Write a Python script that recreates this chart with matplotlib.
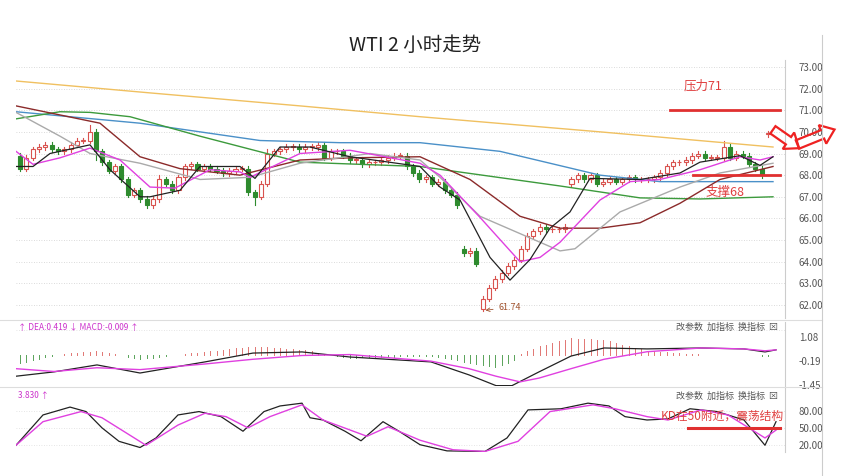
import matplotlib
matplotlib.use("Agg")
import matplotlib.pyplot as plt
import numpy as np
from matplotlib.patches import Rectangle, Polygon
from matplotlib.lines import Line2D

plt.rcParams['font.family'] = ['Noto Sans CJK SC', 'DejaVu Sans']

# 2-hour candles, closes
closes = [68.3, 68.8, 69.2, 69.3, 69.4, 69.2, 69.1, 69.2, 69.4, 69.6,
          69.6, 70.0, 69.1, 68.6, 68.2, 68.4, 67.8, 67.1, 67.3, 66.9,
          66.6, 66.9, 67.8, 67.6, 67.3, 67.9, 68.4, 68.5, 68.3, 68.4,
          68.3, 68.2, 68.1, 68.2, 68.3, 68.3, 67.2, 67.0, 67.6, 69.0,
          69.1, 69.2, 69.3, 69.3, 69.2, 69.3, 69.3, 69.4, 68.8, 69.1,
          69.1, 68.9, 68.7, 68.7, 68.5, 68.6, 68.6, 68.7, 68.8, 68.9,
          68.9, 68.4, 68.1, 67.8, 67.9, 67.6, 67.7, 67.3, 67.1, 66.6,
          64.4, 64.5, 63.9, 62.3, 62.8, 63.2, 63.5, 63.8, 64.1, 64.6,
          65.2, 65.4, 65.6, 65.5, 65.5, 65.5, 65.6, 67.8, 68.0, 67.8,
          68.0, 67.6, 67.7, 67.8, 67.7, 67.8, 67.9, 67.8, 67.8, 67.8,
          67.9, 68.1, 68.4, 68.6, 68.6, 68.7, 68.9, 69.0, 68.8, 68.8,
          68.8, 69.3, 68.8, 69.0, 68.9, 68.5, 68.3, 68.0, 69.9]
first_open = 68.9
open_override = {70: 64.6, 73: 61.8, 87: 67.6, 118: 69.9}
high_override = {11: 70.3, 39: 69.2, 111: 69.6, 22: 68.0}
low_override = {73: 61.74, 37: 66.6, 12: 68.7}

# moving averages, (chart x, price) knots
ma_yellow = [(16, 72.35), (150, 71.8), (300, 71.2), (420, 70.7), (600, 70.0), (773, 69.3)]
ma_blue = [(16, 70.93), (140, 70.4), (260, 69.6), (340, 69.5), (420, 69.5), (500, 69.1), (600, 68.0),
           (660, 67.7), (773, 67.7)]
ma_green = [(16, 70.6), (60, 70.93), (90, 70.9), (130, 70.7), (200, 69.8), (300, 68.6), (420, 68.4),
            (560, 67.5), (640, 66.95), (700, 66.9), (773, 67.0)]
ma_brown = [(16, 71.2), (100, 70.4), (140, 68.85), (180, 68.3), (240, 68.0), (300, 68.7), (350, 68.8),
            (420, 68.85), (470, 67.8), (520, 66.1), (560, 65.55), (600, 65.55), (640, 65.8), (680, 66.7),
            (720, 67.8), (773, 68.4)]
ma_gray = [(16, 70.9), (60, 69.8), (90, 69.0), (140, 68.55), (200, 67.8), (250, 67.9), (300, 68.55),
           (370, 69.0), (420, 68.7), (440, 67.9), (480, 66.1), (560, 64.5), (575, 64.6), (620, 66.3),
           (680, 67.45), (720, 68.1), (773, 68.55)]
ma_magenta = [(16, 69.1), (33, 68.5), (60, 68.8), (90, 69.25), (120, 68.7), (150, 67.45), (175, 67.4),
              (210, 68.25), (240, 68.15), (250, 67.9), (300, 69.0), (350, 69.15), (420, 68.55), (440, 68.0),
              (480, 66.05), (520, 64.0), (540, 64.2), (560, 64.9), (600, 66.85), (630, 67.7), (660, 67.8),
              (700, 68.25), (740, 68.85), (760, 68.7), (773, 68.85)]
ma_black = [(16, 68.4), (33, 68.4), (50, 69.0), (90, 69.4), (110, 68.25), (140, 67.0), (150, 67.0),
            (180, 67.3), (200, 68.4), (240, 68.4), (255, 67.85), (280, 69.3), (310, 69.3), (350, 68.85),
            (420, 68.4), (440, 67.45), (460, 66.85), (490, 64.2), (510, 63.15), (530, 64.1), (550, 65.55),
            (570, 66.3), (590, 67.85), (640, 67.8), (680, 68.1), (700, 68.6), (740, 68.9), (760, 68.45),
            (773, 68.85)]

# MACD (chart x, value)
dif = [(16, -1.0), (54, -0.77), (97, -0.4), (140, -0.83), (205, -0.24), (253, 0.23), (302, 0.29),
       (350, 0.02), (431, -0.24), (469, -0.93), (496, -1.5), (512, -1.5), (539, -0.77), (571, 0.07),
       (604, 0.5), (647, 0.45), (701, 0.5), (744, 0.45), (765, 0.29), (776, 0.4)]
dea = [(16, -0.6), (54, -0.75), (97, -0.55), (140, -0.65), (205, -0.35), (253, -0.1), (302, 0.1),
       (350, 0.15), (431, -0.2), (469, -0.6), (496, -1.0), (520, -1.3), (539, -1.1), (571, -0.6),
       (604, -0.1), (647, 0.3), (701, 0.5), (744, 0.45), (765, 0.35), (776, 0.4)]

# KD (chart x, value)
kd_k = [(16, 19), (43, 73), (70, 87), (86, 79), (102, 50), (119, 26), (140, 15), (156, 32), (178, 73),
        (199, 79), (221, 70), (243, 44), (264, 79), (280, 89), (302, 94), (310, 68), (323, 64), (345, 44),
        (361, 27), (383, 61), (399, 44), (420, 20), (447, 9), (485, 8), (507, 32), (528, 82), (561, 84),
        (588, 94), (609, 89), (625, 70), (647, 64), (668, 66), (690, 84), (717, 79), (744, 64), (765, 19),
        (776, 61)]
kd_d = [(16, 19), (43, 61), (81, 79), (102, 68), (146, 19), (178, 55), (205, 76), (226, 70), (248, 50),
        (270, 70), (302, 91), (323, 64), (367, 35), (388, 52), (420, 28), (453, 11), (485, 8), (518, 26),
        (550, 79), (593, 91), (615, 84), (647, 70), (668, 64), (701, 82), (728, 73), (765, 32), (776, 46)]

n = len(closes)
sp = 748.0 / (n - 1)


def bx(px):
    return (px - 20.0) / sp


def knots(lst):
    a = np.array(lst, dtype=float)
    return bx(a[:, 0]), a[:, 1]


W, H = 841, 476
fig = plt.figure(figsize=(W / 100, H / 100), dpi=100)
xl = (bx(16), bx(785))


def fax(top, bot):
    return fig.add_axes([16 / W, 1 - bot / H, (785 - 16) / W, (bot - top) / H])


ax = fax(60, 318)
am = fax(322, 386)
ak = fax(388, 452)
for a in (ax, am, ak):
    a.set_xlim(*xl)
    a.set_xticks([])
    a.yaxis.tick_right()
    a.tick_params(axis='y', length=0, pad=10, labelsize=7, labelcolor='#555555')
    for s in ('top', 'left', 'bottom'):
        a.spines[s].set_visible(False)
    a.spines['right'].set_color('#cccccc')
    a.set_facecolor('none')

# main panel
ax.set_ylim(61.4, 73.32)
ax.set_yticks(range(62, 74))
ax.set_yticklabels(['%.2f' % v for v in range(62, 74)])
for v in range(62, 74):
    ax.axhline(v, color='#cfcfcf', lw=0.6, ls=(0, (1, 2)), zorder=0)

red_c = '#d9534f'
grn_c = '#2e8b2e'
prev = first_open
for i, c in enumerate(closes):
    o = open_override.get(i, prev)
    hi = high_override.get(i, max(o, c) + 0.12)
    lo = low_override.get(i, min(o, c) - 0.12)
    up = c >= o
    col = red_c if up else grn_c
    ax.plot([i, i], [lo, hi], color=col, lw=0.8, zorder=3)
    body = max(abs(c - o), 0.03)
    ax.add_patch(Rectangle((i - 0.32, min(o, c)), 0.64, body, facecolor='white' if up else col,
                           edgecolor=col, lw=0.8, zorder=4))
    prev = c

for lst, col, lw in [(ma_yellow, '#f0c060', 1.0), (ma_blue, '#4a90c8', 1.0), (ma_green, '#3c9a3c', 1.0),
                     (ma_brown, '#8b2a2a', 1.0), (ma_gray, '#aaaaaa', 1.0), (ma_magenta, '#e040e0', 1.0),
                     (ma_black, '#222222', 0.9)]:
    xs, ys = knots(lst)
    ax.plot(xs, ys, color=col, lw=lw, zorder=5)

ax.plot([bx(670), bx(780)], [71, 71], color='#e03030', lw=2, zorder=6)
ax.plot([bx(693), bx(780)], [68, 68], color='#e03030', lw=2, zorder=6)
ax.text(bx(703), 72.1, '压力71', color='#e04040', fontsize=9, va='center', ha='center')
ax.text(bx(725), 67.2, '支撑68', color='#e04040', fontsize=9, va='center', ha='center')
ax.annotate('61.74', xy=(73, 61.74), xytext=(75.5, 61.9), color='#a0522d', fontsize=6.5,
            va='center', arrowprops=dict(arrowstyle='->', color='#a0522d', lw=0.6))

# MACD panel
am.set_ylim(-1.52, 1.88)
am.set_yticks([1.08, -0.19, -1.45])
am.set_yticklabels(['1.08', '-0.19', '-1.45'])
am.axhline(1.45, color='#dddddd', lw=0.6, ls=(0, (1, 2)))
am.axhline(-1.62, color='#dddddd', lw=0.6, ls=(0, (1, 2)))
xs_d, ys_d = knots(dif)
xs_e, ys_e = knots(dea)
bars = np.arange(0, n, 1)
hd = np.interp(bars, xs_d, ys_d)
he = np.interp(bars, xs_e, ys_e)
hist = (hd - he) * 1.3
base = 0.15
for i, h in zip(bars, hist):
    am.plot([i, i], [base, base + h], color=red_c if h > 0 else grn_c, lw=0.7, alpha=0.8)
am.plot(xs_d, ys_d, color='#222222', lw=0.9)
am.plot(xs_e, ys_e, color='#e040e0', lw=1.0)
am.text(bx(18), 1.6, '↑ DEA:0.419 ↓ MACD:-0.009 ↑', color='#cc33cc', fontsize=6, va='center')
am.text(bx(778), 1.6, '改参数  加指标  换指标  ⊠', color='#555555', fontsize=6.5, va='center', ha='right')

# KD panel
ak.set_ylim(7, 121)
ak.set_yticks([80, 50, 20])
ak.set_yticklabels(['80.00', '50.00', '20.00'])
for v in (80, 50, 20):
    ak.axhline(v, color='#dddddd', lw=0.6, ls=(0, (1, 2)))
xs, ys = knots(kd_k)
ak.plot(xs, ys, color='#222222', lw=0.9)
xs, ys = knots(kd_d)
ak.plot(xs, ys, color='#e040e0', lw=1.0)
ak.plot([bx(688), bx(780)], [50, 50], color='#e03030', lw=2.2)
ak.text(bx(722), 70, 'KD在50附近，震荡结构', color='#e04040', fontsize=8.5, va='center', ha='center')
ak.text(bx(18), 107, '3.830 ↑', color='#cc33cc', fontsize=6, va='center')
ak.text(bx(778), 107, '改参数  加指标  换指标  ⊠', color='#555555', fontsize=6.5, va='center', ha='right')

# frame lines
for y in (320, 387):
    fig.add_artist(Line2D([0, 822 / W], [1 - y / H, 1 - y / H], color='#dddddd', lw=0.8))
fig.add_artist(Line2D([822 / W, 822 / W], [0, 1 - 35 / H], color='#cccccc', lw=0.8))

fig.text(415 / W, 1 - 45 / H, 'WTI 2 小时走势', fontsize=14, ha='center', va='center', color='#222222')


# hollow red arrows on the right edge
def arrow(cx, cy, ang, L=34, t=9, hw=20, hl=13):
    pts = np.array([[-L / 2, -t / 2], [L / 2 - hl, -t / 2], [L / 2 - hl, -hw / 2], [L / 2, 0],
                    [L / 2 - hl, hw / 2], [L / 2 - hl, t / 2], [-L / 2, t / 2]])
    r = np.deg2rad(ang)
    R = np.array([[np.cos(r), -np.sin(r)], [np.sin(r), np.cos(r)]])
    p = pts @ R.T + [cx, cy]
    p = np.column_stack([p[:, 0] / W, 1 - p[:, 1] / H])
    fig.add_artist(Polygon(p, closed=True, fill=False, edgecolor='#ee2222', lw=1.6,
                           transform=fig.transFigure))


arrow(786, 139, 35, L=32)
arrow(816, 137, -22, L=40)

fig.savefig('out.png', dpi=100)
